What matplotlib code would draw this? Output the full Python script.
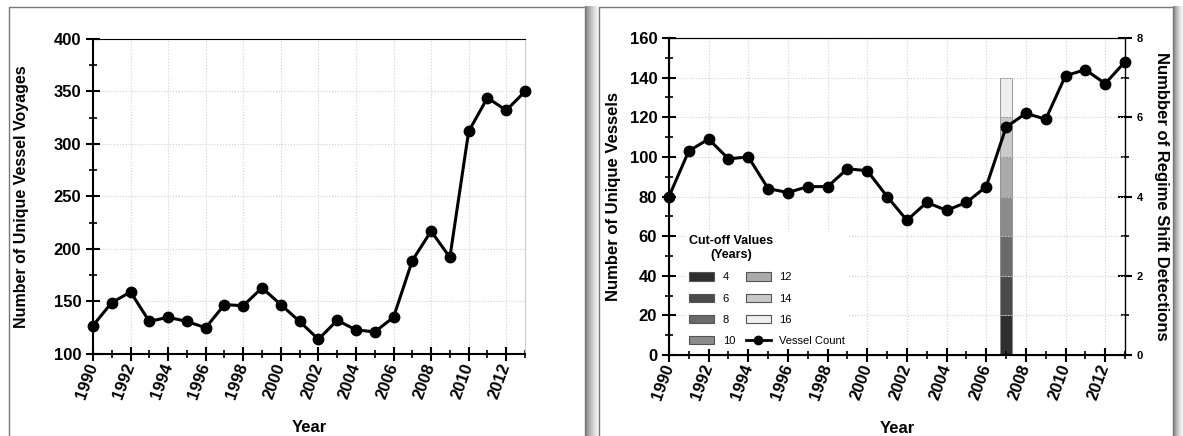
import numpy as np
import matplotlib.pyplot as plt
from matplotlib.patches import Rectangle, Patch
from matplotlib.lines import Line2D
from matplotlib.ticker import MultipleLocator

# donnees
years = list(range(1990, 2014))
voyages = [127, 149, 159, 131, 135, 131, 125, 147, 146, 163, 147, 131,
           114, 132, 123, 121, 135, 189, 217, 192, 312, 344, 332, 350]
vessels = [80, 103, 109, 99, 100, 84, 82, 85, 85, 94, 93, 80,
           68, 77, 73, 77, 85, 115, 122, 119, 141, 144, 137, 148]
cutoffs = [4, 6, 8, 10, 12, 14, 16]
shift_year = 2007
detections = [1, 1, 1, 1, 1, 1, 1]
grays = ['#2e2e2e', '#4b4b4b', '#6a6a6a', '#8b8b8b', '#aaaaaa', '#cacaca', '#efefef']

plt.rcParams['font.family'] = ['Liberation Sans', 'DejaVu Sans']
plt.rcParams['font.weight'] = 'bold'
plt.rcParams['axes.labelweight'] = 'bold'

fig = plt.figure(figsize=(11.83, 4.36), dpi=100)

# fond : deux cadres avec ombre grise
bg = fig.add_axes([0, 0, 1, 1], zorder=-10)
bg.set_xlim(0, 1183)
bg.set_ylim(436, 0)
bg.axis('off')
grad = np.array([[0.55, 0.62, 0.70, 0.78, 0.85, 0.91, 0.96]])
bg.imshow(grad, cmap='gray', vmin=0, vmax=1, extent=(585, 599, 436, 7), aspect='auto')
bg.imshow(grad, cmap='gray', vmin=0, vmax=1, extent=(1173, 1183, 436, 7), aspect='auto')
bg.add_patch(Rectangle((9, 7), 576, 440, fc='white', ec='#777777', lw=1))
bg.add_patch(Rectangle((599, 7), 574, 440, fc='white', ec='#777777', lw=1))


def style(ax, ymaj, ymin):
    ax.set_xlim(1990, 2013)
    ax.xaxis.set_major_locator(MultipleLocator(2))
    ax.xaxis.set_minor_locator(MultipleLocator(1))
    ax.yaxis.set_major_locator(MultipleLocator(ymaj))
    ax.yaxis.set_minor_locator(MultipleLocator(ymin))
    ax.tick_params(which='major', direction='inout', length=10, width=1.5, labelsize=12)
    ax.tick_params(which='minor', direction='inout', length=6, width=1.2)
    ax.tick_params(axis='x', pad=2)
    plt.setp(ax.get_xticklabels(), rotation=70, ha='right', va='center', rotation_mode='anchor')
    ax.grid(which='major', color='#d0d0d0', linestyle=':', linewidth=0.8)
    ax.spines['left'].set_linewidth(1.5)
    ax.spines['bottom'].set_linewidth(1.5)
    ax.spines['top'].set_linewidth(0.8)
    ax.spines['right'].set_color('#cccccc')
    ax.set_xlabel('Year', fontsize=12, labelpad=14)


# graphique de gauche
ax1 = fig.add_axes([0.0786, 0.1881, 0.3652, 0.7225])
ax1.plot(years, voyages, 'k-o', lw=2.2, ms=7.5, clip_on=False, zorder=5)
ax1.set_ylim(100, 400)
style(ax1, 50, 25)
ax1.set_ylabel('Number of Unique Vessel Voyages', fontsize=11.5, labelpad=18)

# graphique de droite
ax2 = fig.add_axes([0.5655, 0.1858, 0.3855, 0.727])
axr = ax2.twinx()
bottom = 0
for d, g in zip(detections, grays):
    axr.bar(shift_year, d, width=0.6, bottom=bottom, color=g, edgecolor='#888888', lw=0.6)
    bottom += d
axr.set_ylim(0, 8)
axr.yaxis.set_major_locator(MultipleLocator(2))
axr.yaxis.set_minor_locator(MultipleLocator(1))
axr.tick_params(which='major', direction='inout', length=10, width=1.5, labelsize=8)
axr.tick_params(which='minor', direction='inout', length=6, width=1.2)
axr.spines['right'].set_linewidth(1.0)
axr.set_ylabel('Numbber of Regime Shift Detections', fontsize=12, rotation=-90, labelpad=19)

ax2.set_zorder(axr.get_zorder() + 1)
ax2.patch.set_visible(False)
ax2.plot(years, vessels, 'k-o', lw=2.2, ms=7.5, clip_on=False, zorder=5)
ax2.set_ylim(0, 160)
style(ax2, 20, 10)
ax2.spines['right'].set_visible(False)
ax2.set_ylabel('Number of Unique Vessels', fontsize=12, labelpad=6)

handles = [Patch(fc=g, ec='#555555', lw=0.8, label=str(c)) for c, g in zip(cutoffs, grays)]
handles.append(Line2D([], [], color='k', marker='o', lw=2, ms=6, label='Vessel Count'))
leg = ax2.legend(handles=handles, ncol=2, title='Cut-off Values\n(Years)',
                 loc='lower left', bbox_to_anchor=(0.025, 0.0),
                 prop={'weight': 'normal', 'size': 8},
                 title_fontproperties={'weight': 'bold', 'size': 9},
                 frameon=True, facecolor='white', edgecolor='none', framealpha=1,
                 handlelength=2.2, handleheight=0.8, labelspacing=1.0,
                 columnspacing=1.0, borderpad=0.3)
leg.get_title().set_multialignment('center')
leg._legend_box.align = 'left'

fig.savefig('out.png', dpi=100)
